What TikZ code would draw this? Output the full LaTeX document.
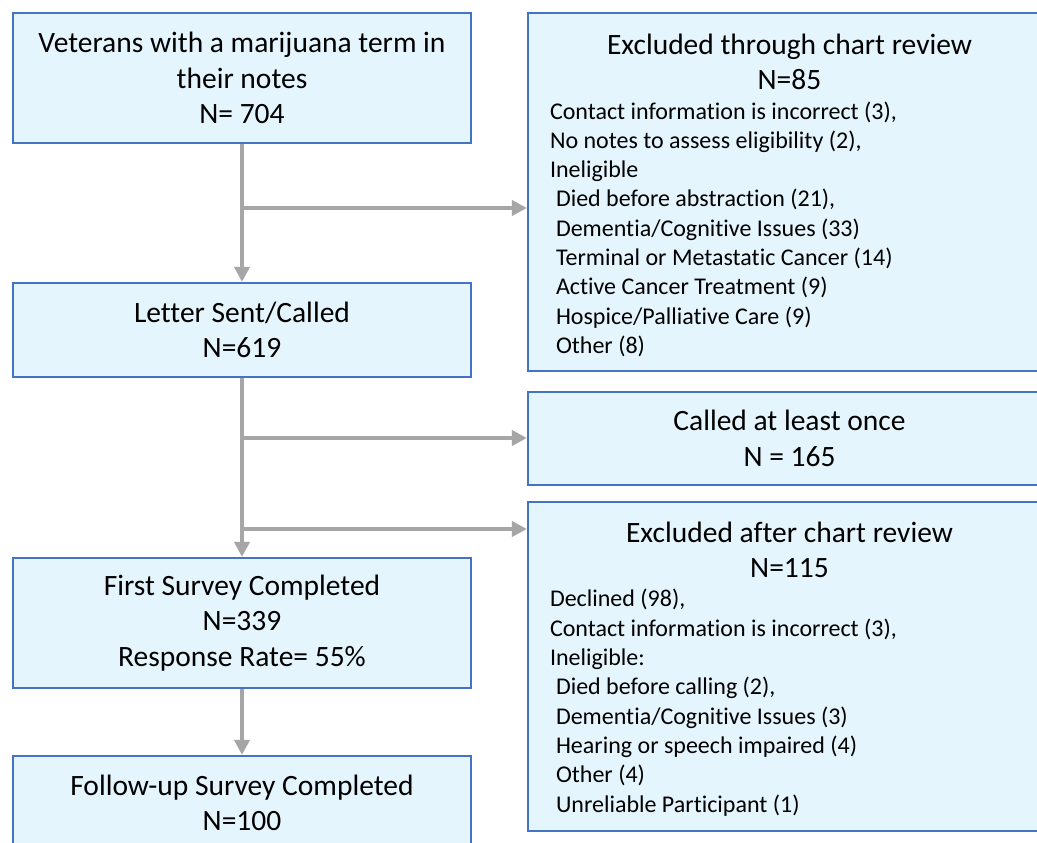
\documentclass[tikz,border=0pt]{standalone}
\usepackage{fontspec}
\setmainfont{Carlito}[Ligatures=NoCommon]
\usetikzlibrary{arrows.meta,positioning}
\definecolor{boxblue}{HTML}{4472C4}
\definecolor{boxfill}{HTML}{E5F5FE}
\definecolor{linkgray}{HTML}{A6A6A6}
\newcommand{\boxfont}{\fontsize{29.5}{35.5}\selectfont}
\newcommand{\listfont}{\fontsize{24}{29.3}\selectfont}
\setlength{\parindent}{0pt}
\begin{document}
\begin{tikzpicture}[x=1pt,y=-1pt,
  stage/.style={draw=boxblue,fill=boxfill,line width=2.2pt,minimum width=458pt,align=center,font=\boxfont,inner sep=0pt},
  side/.style={draw=boxblue,fill=boxfill,line width=2.2pt,minimum width=523pt,text width=479pt,inner xsep=22pt,inner ysep=0pt,align=flush left,font=\boxfont},
  link/.style={draw=linkgray,line width=4pt,-{Triangle[length=15pt,width=15pt]}}]
        \useasboundingbox (0,0) rectangle (1037,843);
        \clip (0,0) rectangle (1037,843);
        \fill[white] (0,0) rectangle (1037,843);

        \node[stage,minimum height=130pt] (vets) at (242,78) {Veterans with a marijuana term in\\their notes\\N= 704};
        \node[stage,minimum height=94pt] (letter) at (242,330) {Letter Sent/Called\\N=619};
        \node[stage,minimum height=130pt] (first) at (242,623) {First Survey Completed\\N=339\\Response Rate= 55\%};
        \node[stage,minimum height=94pt] (follow) at (242,803) {Follow-up Survey Completed\\N=100};

        \node[side,minimum height=358pt] (review) at (789.5,192) {{\centering\rule{0pt}{27pt}Excluded through chart review\\N=85\par}
         {\listfont Contact information is incorrect (3),\\No notes to assess eligibility (2),\\Ineligible\\
         \hspace*{6pt}Died before abstraction (21),\\\hspace*{6pt}Dementia/Cognitive Issues (33)\\
         \hspace*{6pt}Terminal or Metastatic Cancer (14)\\\hspace*{6pt}Active Cancer Treatment (9)\\
         \hspace*{6pt}Hospice/Palliative Care (9)\\\hspace*{6pt}Other (8)\par}};
        \node[side,minimum height=93pt,align=flush center] (called) at (789.5,438.5) {Called at least once\\N = 165};
        \node[side,minimum height=329pt] (declined) at (789.5,666.5) {{\centering\rule{0pt}{25pt}Excluded after chart review\\N=115\par}
         {\listfont Declined (98),\\Contact information is incorrect (3),\\Ineligible:\\
         \hspace*{6pt}Died before calling (2),\\\hspace*{6pt}Dementia/Cognitive Issues (3)\\
         \hspace*{6pt}Hearing or speech impaired (4)\\\hspace*{6pt}Other (4)\\
         \hspace*{6pt}Unreliable Participant (1)\par}};

        \coordinate (split1) at (242,208);
        \coordinate (split2) at (242,438);
        \coordinate (split3) at (242,529);
        \draw[link] (vets) -- (letter);
        \draw[link] (split1) -- (split1 -| review.west);
        \draw[link] (letter) -- (first);
        \draw[link] (split2) -- (split2 -| called.west);
        \draw[link] (split3) -- (split3 -| declined.west);
        \draw[link] (first) -- (follow);
       \end{tikzpicture}
\end{document}
